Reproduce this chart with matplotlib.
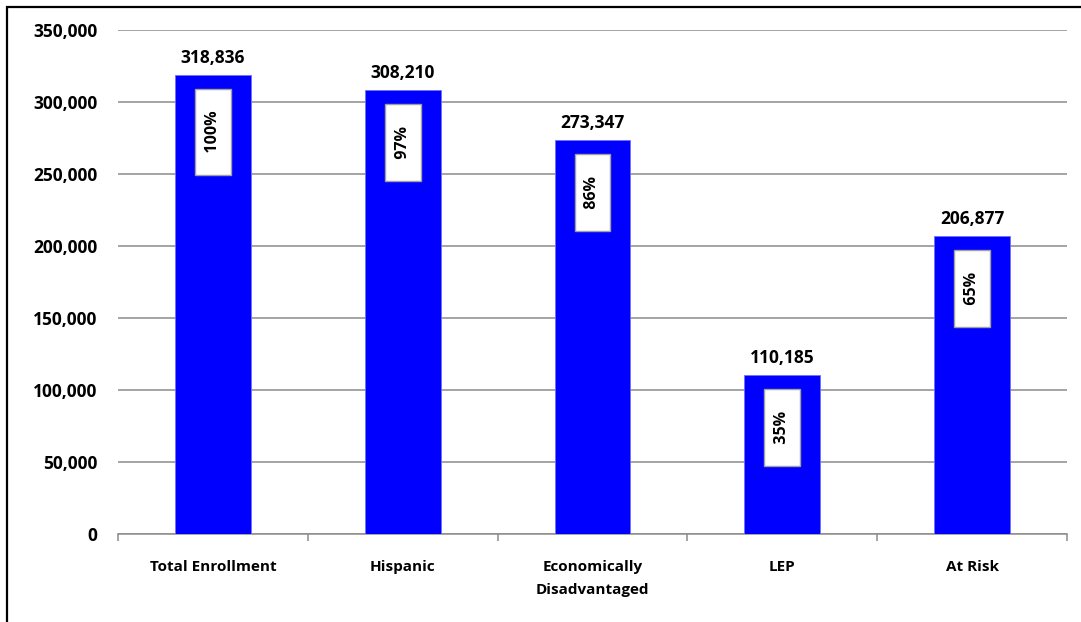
import matplotlib
matplotlib.use('Agg')
import matplotlib.pyplot as plt
import matplotlib.ticker as ticker
from matplotlib.patches import Rectangle

categories = ['Total Enrollment', 'Hispanic', 'Economically\nDisadvantaged', 'LEP', 'At Risk']
counts = [318836, 308210, 273347, 110185, 206877]

plt.rcParams['font.family'] = ['Open Sans', 'DejaVu Sans']
plt.rcParams['font.weight'] = 'bold'

fig = plt.figure(figsize=(10.81, 6.22), dpi=100)
ax = fig.add_axes([118 / 1081, 1 - 534 / 622, (1067 - 118) / 1081, (534 - 30) / 622])

x = list(range(len(categories)))
bars = ax.bar(x, counts, width=0.4, color='#0000FF', edgecolor='#7070ff', linewidth=0.6, zorder=3)

ax.set_xlim(-0.5, len(categories) - 0.5)
ax.set_ylim(0, 350000)
ax.yaxis.set_major_locator(ticker.MultipleLocator(50000))
ax.yaxis.set_major_formatter(ticker.FuncFormatter(lambda v, p: f'{int(v):,}'))
ax.yaxis.grid(True, color='#8c8c8c', linewidth=1.1, zorder=0)
ax.set_axisbelow(True)

for side in ['left', 'right', 'top']:
    ax.spines[side].set_visible(False)
ax.spines['bottom'].set_color('#8c8c8c')
ax.spines['bottom'].set_linewidth(1.1)

ax.tick_params(axis='y', length=0, pad=15, labelsize=12.5)
ax.set_xticks(x)
ax.set_xticklabels(categories, fontsize=11, fontweight='bold', linespacing=1.75)
ax.tick_params(axis='x', which='major', length=0, pad=19)
ax.set_xticks([i - 0.5 for i in range(len(categories) + 1)], minor=True)
ax.tick_params(axis='x', which='minor', length=5, color='#8c8c8c', width=1.1)

total = counts[0]
for rect, val in zip(bars, counts):
    cx = rect.get_x() + rect.get_width() / 2
    ax.annotate(f'{val:,}', (cx, val), xytext=(0, 6), textcoords='offset points',
                ha='center', va='bottom', fontsize=12.5, fontweight='bold')
    pct = round(val / total * 100)
    ax.annotate(f'   {pct}%   ', (cx, val), xytext=(0, -17), textcoords='offset points',
                ha='center', va='top', rotation=90, fontsize=11.5, fontweight='bold',
                bbox=dict(boxstyle='square,pad=0.62', facecolor='white', edgecolor='#a0a0a0', linewidth=1),
                zorder=4)

# outer frame
fig.patches.append(Rectangle((7 / 1081, -0.05), 1.2, 1 - 7 / 622 + 0.05, transform=fig.transFigure,
                             fill=False, edgecolor='black', linewidth=1.6))

fig.savefig('out.png', dpi=100)
